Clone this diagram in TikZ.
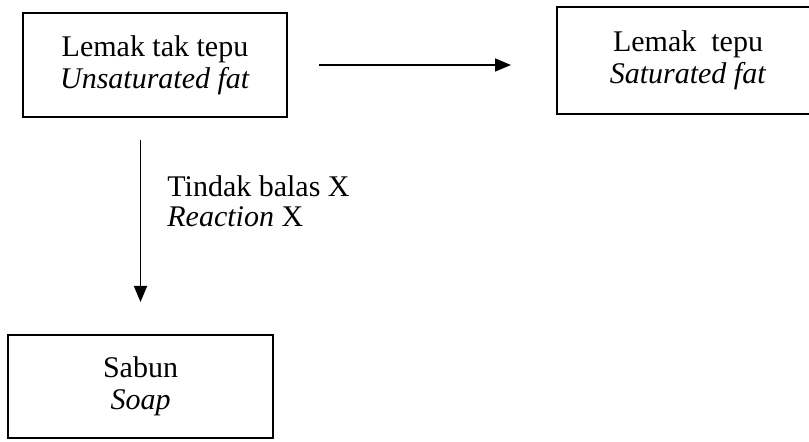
\documentclass[tikz,border=0pt]{standalone}
\usepackage{fontspec}
\setmainfont{Liberation Serif}
\usepackage{tikz}
\usetikzlibrary{arrows.meta}
\usetikzlibrary{positioning}

\tikzset{
  fatbox/.style={draw, line width=1pt, align=center, inner sep=0pt,
    font=\fontsize{15}{16}\selectfont},
  arr/.style={-{Triangle[length=8pt,width=6.5pt]}, line width=0.8pt}
}

\begin{document}
\begin{tikzpicture}[x=0.5pt, y=-0.5pt]
\useasboundingbox (0,0) rectangle (809,442);

% unsaturated
\node (unsat) [fatbox, minimum width=132pt, minimum height=52pt] at (155,65)
  {Lemak tak tepu\\\textit{Unsaturated fat}};

% saturated
\node (sat) [fatbox, minimum width=131pt, minimum height=53.5pt] at (688,60.5)
  {Lemak\ \ tepu\\\textit{Saturated fat}};

% soap
\node (soap) [fatbox, minimum width=132.5pt, minimum height=51.5pt] at (140.5,386.5)
  {Sabun\\\textit{Soap}};

\draw [arr, shorten <=15.5pt, shorten >=22.5pt] (unsat.east) -- (unsat.east -| sat.west);
\draw [arr, shorten <=11pt, shorten >=16pt] (soap.north |- unsat.south) -- (soap.north);

\node (rx) [anchor=base west, align=left, inner sep=0pt,
  font=\fontsize{15}{15}\selectfont] at (167,227)
  {Tindak balas X\\\textit{Reaction} X};
\end{tikzpicture}
\end{document}
